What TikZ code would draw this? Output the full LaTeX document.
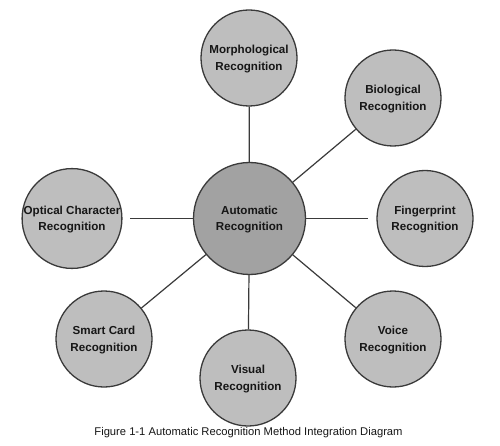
\documentclass[tikz,border=0pt]{standalone}
\usepackage{fontspec}
\setmainfont{Liberation Sans}
\usetikzlibrary{positioning}
\definecolor{rim}{HTML}{3A3A3A}
\definecolor{leafgray}{HTML}{BEBEBE}
\definecolor{hubgray}{HTML}{A2A2A2}
\definecolor{txt}{HTML}{161616}

\begin{document}
\begin{tikzpicture}[x=1pt,y=-1pt,
    leaf/.style={circle,draw=rim,line width=1.3pt,fill=leafgray,minimum size=96pt,inner sep=0pt,text depth=0pt,align=center,text=txt,font=\fontsize{11.6}{16.5}\selectfont\bfseries},
    hub/.style={leaf,fill=hubgray,minimum size=112pt},
    spoke/.style={draw=rim,line width=1.2pt}]
  \useasboundingbox[fill=white] (0,0) rectangle (500,446);
  \node[hub] (auto) at (249.5,218.5) {Automatic\\Recognition};
  \node[leaf] (morph) at (249,58) {Morphological\\Recognition};
  \node[leaf] (bio) at (393,98) {Biological\\Recognition};
  \node[leaf] (finger) at (425,218.5) {Fingerprint\\Recognition};
  \node[leaf] (voice) at (393,339) {Voice\\Recognition};
  \node[leaf] (visual) at (248,378) {Visual\\Recognition};
  \node[leaf] (card) at (104,339) {Smart Card\\Recognition};
  \node[leaf] (ocr) at (72,218.5) {Optical Character\\Recognition};
  \path (auto) edge[spoke] (morph);
  \path (auto) edge[spoke] (bio);
  \path (auto) edge[spoke,shorten >=8pt] (finger);
  \path (auto) edge[spoke] (voice);
  \path (auto) edge[spoke] (visual);
  \path (auto) edge[spoke] (card);
  \path (auto) edge[spoke,shorten >=7pt] (ocr);
  \node[text=txt,font=\fontsize{11.2}{13}\selectfont] (caption) at (248.5,433) {Figure 1-1 Automatic Recognition Method Integration Diagram};
\end{tikzpicture}
\end{document}
